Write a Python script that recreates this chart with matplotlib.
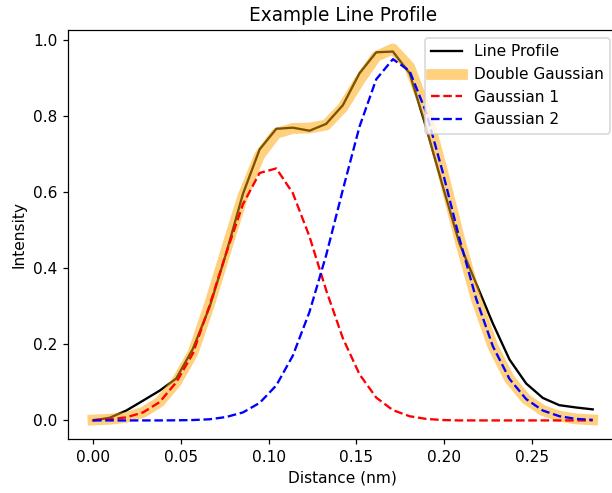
import numpy as np
from matplotlib import pyplot as plt

# distance along the profile (nm)
distance = [0.0, 0.0095, 0.019, 0.0285, 0.0379, 0.0474, 0.0569, 0.0664, 0.0759, 0.0854,
            0.0949, 0.1044, 0.1138, 0.1233, 0.1328, 0.1423, 0.1518, 0.1613, 0.1708, 0.1803,
            0.1897, 0.1992, 0.2087, 0.2182, 0.2277, 0.2372, 0.2467, 0.2562, 0.2656, 0.2751,
            0.2846]

# measured intensity
profile = [0.0, 0.007, 0.026, 0.052, 0.078, 0.110, 0.188, 0.298, 0.440, 0.595,
           0.712, 0.766, 0.769, 0.761, 0.779, 0.828, 0.912, 0.967, 0.969, 0.912,
           0.770, 0.615, 0.465, 0.360, 0.255, 0.160, 0.097, 0.059, 0.040, 0.034,
           0.029]

# fitted components
gauss1 = [0.001, 0.003, 0.008, 0.021, 0.048, 0.100, 0.176, 0.302, 0.440, 0.568,
          0.650, 0.662, 0.597, 0.483, 0.342, 0.216, 0.121, 0.060, 0.027, 0.011,
          0.004, 0.001, 0.0, 0.0, 0.0, 0.0, 0.0, 0.0, 0.0, 0.0,
          0.0]
gauss2 = [0.0, 0.0, 0.0, 0.0, 0.0, 0.0003, 0.001, 0.003, 0.009, 0.021,
          0.046, 0.092, 0.170, 0.285, 0.434, 0.606, 0.772, 0.896, 0.949, 0.918,
          0.810, 0.652, 0.478, 0.320, 0.195, 0.109, 0.056, 0.026, 0.011, 0.004,
          0.0015]
double = [0.001, 0.003, 0.008, 0.021, 0.048, 0.100, 0.177, 0.305, 0.449, 0.589,
          0.696, 0.754, 0.767, 0.768, 0.776, 0.822, 0.893, 0.956, 0.976, 0.929,
          0.814, 0.653, 0.478, 0.320, 0.195, 0.109, 0.056, 0.026, 0.011, 0.004,
          0.0015]

dpi = 111.2
fig = plt.figure(figsize=(612 / dpi, 493 / dpi), dpi=dpi)
# axes box in pixels: left 68, right ~618 (runs past the image edge), top 30, bottom 439
ax = fig.add_axes([68 / 612, 1 - 439 / 493, (617.7 - 68) / 612, (439 - 30.3) / 493])

ax.plot(distance, profile, color='black', label='Line Profile')
ax.plot(distance, double, color='orange', linewidth=7, alpha=0.5, label='Double Gaussian')
ax.plot(distance, gauss1, 'r--', label='Gaussian 1')
ax.plot(distance, gauss2, 'b--', label='Gaussian 2')

ax.set_title("Example Line Profile")
ax.set_xlabel("Distance (nm)")
ax.set_ylabel("Intensity")
ax.legend(loc='upper right')

fig.savefig('out.png', dpi=dpi)
